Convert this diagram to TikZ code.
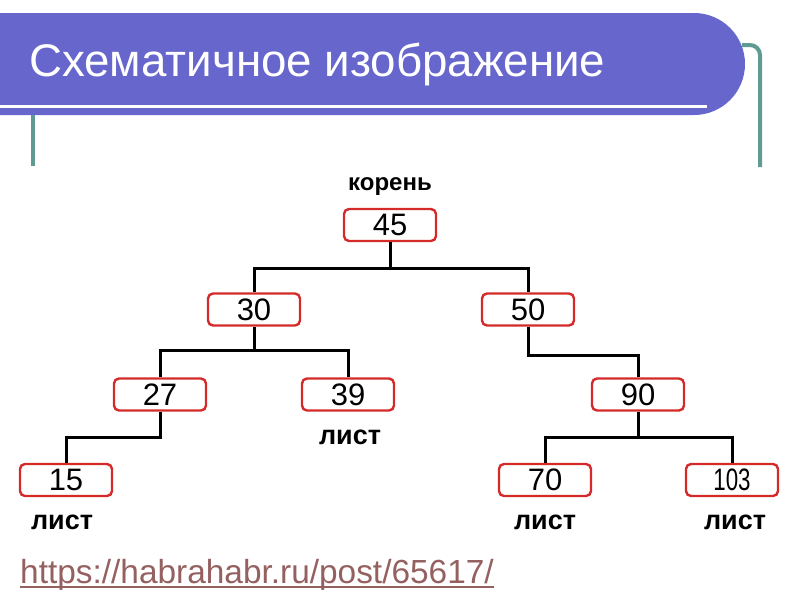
\documentclass[tikz,border=0pt]{standalone}
\usepackage{fontspec}
\setmainfont{Liberation Sans}
\usetikzlibrary{positioning,calc}
\definecolor{banner}{HTML}{6666CC}
\definecolor{teal1}{HTML}{5F9B93}
\definecolor{boxred}{HTML}{D42A2A}
\definecolor{urlc}{HTML}{946060}
\tikzset{
  val/.style={draw=boxred, line width=2.4pt, rounded corners=5pt, fill=white,
    minimum width=92pt, minimum height=32pt, inner sep=0pt,
    font=\fontsize{31}{33}\selectfont, text=black},
  lab/.style={font=\bfseries\fontsize{27}{29}\selectfont, inner sep=0pt},
  edge/.style={line width=3pt, black}
}
\begin{document}
\begin{tikzpicture}[x=1pt,y=-1pt]
\useasboundingbox (0,0) rectangle (800,600);
% banner
\fill[banner] (0,13) -- (694,13) arc[start angle=-90,end angle=90,radius=51] -- (0,115) -- cycle;
\draw[white, line width=3pt] (0,106) -- (707,106);
\node[anchor=base west, text=white, font=\fontsize{45.7}{48}\selectfont, inner sep=0pt] (title) at (29,76) {Схематичное изображение};
\draw[teal1, line width=4pt] (33,115) -- (33,166);
\draw[teal1, line width=4pt] (742,45) -- (750,45) arc[start angle=-90,end angle=0,radius=10] -- (760,167);
% nodes
\node[val] (n45) at (390,225) {45};
\node[val] (n30) at (254,309.5) {30};
\node[val] (n50) at (528,309.5) {50};
\node[val] (n27) at (160,394.5) {27};
\node[val] (n39) at (348,394.5) {39};
\node[val] (n90) at (638,394.5) {90};
\node[val] (n15) at (66,480) {15};
\node[val] (n70) at (545,480) {70};
\node[val] (n103) at (732,480) {\scalebox{0.72}[1]{103}};
% labels
\node[lab, font=\bfseries\fontsize{24}{26}\selectfont] (lroot) at (390,187) {корень};
\node[lab] (l39) at (350,437) {лист};
\node[lab] (l15) at (62,522) {лист};
\node[lab] (l70) at (545,522) {лист};
\node[lab] (l103) at (735,522) {лист};
% edges
\draw[edge] (n45.south) -- ++(0,26) -| (n30.north);
\draw[edge] (n45.south) ++(0,26) -| (n50.north);
\draw[edge] (n30.south) -- ++(0,24) -| (n27.north);
\draw[edge] (n30.south) ++(0,24) -| (n39.north);
\draw[edge] (n50.south) -- ++(0,29) -| (n90.north);
\draw[edge] (n27.south) -- ++(0,26) -| (n15.north);
\draw[edge] (n90.south) -- ++(0,26) -| (n70.north);
\draw[edge] (n90.south) ++(0,26) -| (n103.north);
% url
\node[anchor=base west, text=urlc, font=\fontsize{33.4}{35}\selectfont, inner sep=0pt] (url) at (20,583) {https://habrahabr.ru/post/65617/};
\draw[urlc, line width=1.5pt] ($(url.base west)+(0,4)$) -- ($(url.base east)+(0,4)$);
\end{tikzpicture}
\end{document}
